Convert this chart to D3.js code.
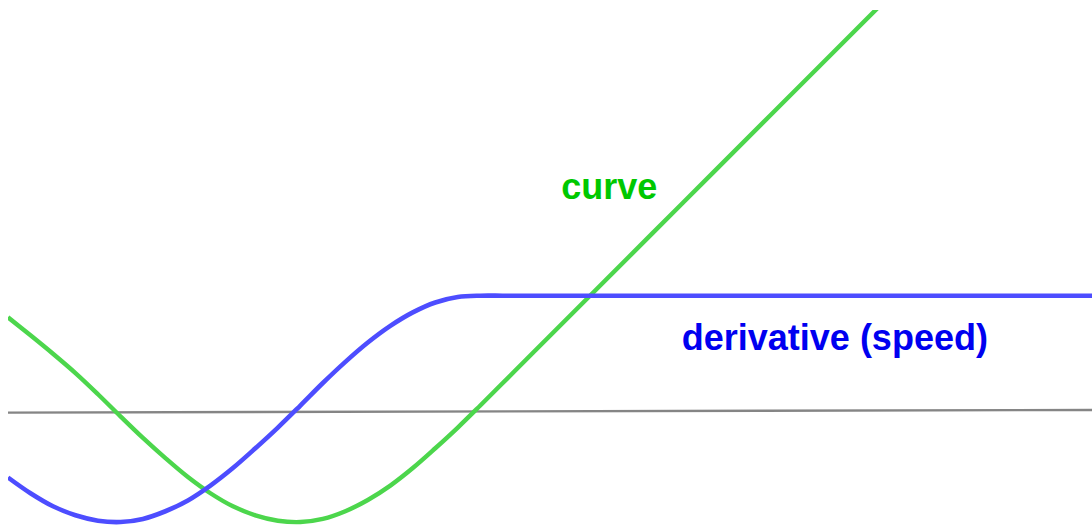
<!DOCTYPE html>
<html>
<head>
<meta charset="utf-8">
<script src="https://cdn.jsdelivr.net/npm/d3@7"></script>
<style>
  html, body { margin: 0; padding: 0; background: #ffffff; }
  svg { display: block; }
</style>
</head>
<body>
<svg id="chart" width="1092" height="527"></svg>
<script>
// Curve position over time (t) and its derivative, sampled points.
const curveT = [0, 0.5, 1, 1.5, 2, 2.5, 3, 3.5, 4, 4.5, 5, 5.5, 6, 6.5, 7, 7.5, 8, 8.5, 9, 9.5, 10, 10.5, 11, 11.5, 12, 13, 15, 17, 19.5];
const curveV = [2.08, 1.68, 1.27, 0.84, 0.37, -0.12, -0.60, -1.05, -1.47, -1.83, -2.12, -2.32, -2.44, -2.47, -2.40, -2.23, -1.98, -1.66, -1.27, -0.83, -0.37, 0.12, 0.62, 1.12, 1.62, 2.62, 4.62, 6.62, 9.12];

const derivT = [0, 0.5, 1, 1.5, 2, 2.5, 3, 3.5, 4, 4.5, 5, 5.5, 6, 6.5, 7, 7.5, 8, 8.5, 9, 9.5, 10, 10.5, 11, 11.5, 12, 12.5, 13, 15, 20, 24.2];
const derivV = [-1.48, -1.83, -2.12, -2.32, -2.44, -2.47, -2.40, -2.23, -1.99, -1.66, -1.27, -0.83, -0.37, 0.12, 0.62, 1.09, 1.52, 1.89, 2.19, 2.41, 2.53, 2.56, 2.56, 2.56, 2.56, 2.56, 2.56, 2.56, 2.56, 2.56];

// Horizontal reference axis (v = 0)
const axisT = [0, 24.2];
const axisV = [-0.037, 0.022];

const labels = [
  { text: "curve", t: 12.3, v: 4.7, color: "#00c800" },
  { text: "derivative (speed)", t: 14.98, v: 1.35, color: "#0000f0" }
];

const plot = { left: 8, right: 1092, top: 10, bottom: 527 };

const x = d3.scaleLinear().domain([0, 24.1]).range([plot.left, plot.right]);
const y = d3.scaleLinear().domain([-2.58, 8.91]).range([plot.bottom, plot.top]);

const svg = d3.select("#chart");

svg.append("defs").append("clipPath").attr("id", "plot-clip")
  .append("rect")
  .attr("x", plot.left).attr("y", plot.top)
  .attr("width", plot.right - plot.left).attr("height", plot.bottom - plot.top);

const g = svg.append("g").attr("clip-path", "url(#plot-clip)");

const zip = (ts, vs) => ts.map((t, i) => ({ t, v: vs[i] }));
const line = d3.line().x(d => x(d.t)).y(d => y(d.v)).curve(d3.curveCatmullRom.alpha(0.5));

g.append("path")
  .datum(zip(axisT, axisV))
  .attr("d", d3.line().x(d => x(d.t)).y(d => y(d.v)))
  .attr("fill", "none")
  .attr("stroke", "#858585")
  .attr("stroke-width", 2.4);

g.append("path")
  .datum(zip(curveT, curveV))
  .attr("d", line)
  .attr("fill", "none")
  .attr("stroke", "#4cd64c")
  .attr("stroke-width", 4.4);

g.append("path")
  .datum(zip(derivT, derivV))
  .attr("d", line)
  .attr("fill", "none")
  .attr("stroke", "#4d4dff")
  .attr("stroke-width", 4.6);

svg.selectAll("text.label")
  .data(labels)
  .enter().append("text")
  .attr("class", "label")
  .attr("x", d => x(d.t))
  .attr("y", d => y(d.v))
  .attr("fill", d => d.color)
  .attr("font-family", "'Liberation Sans', Arial, sans-serif")
  .attr("font-weight", "bold")
  .attr("font-size", 36)
  .text(d => d.text);
</script>
</body>
</html>
